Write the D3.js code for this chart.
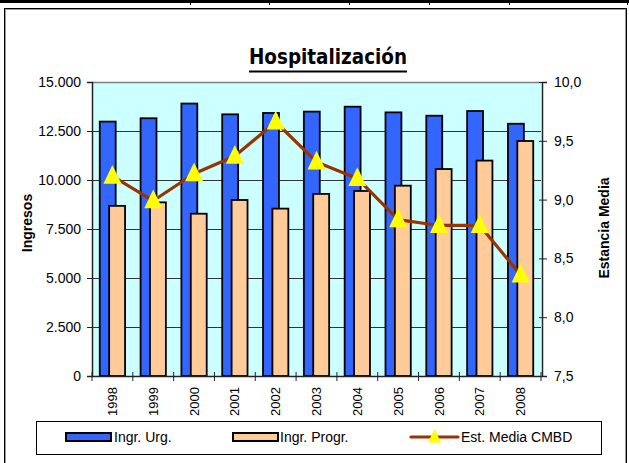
<!DOCTYPE html>
<html><head><meta charset="utf-8">
<script src="https://cdn.jsdelivr.net/npm/d3@7"></script>
<style>body{margin:0;background:#fff}svg{display:block}</style>
</head><body>
<svg id="c" width="629" height="463"></svg>
<script>
const years = ["1998","1999","2000","2001","2002","2003","2004","2005","2006","2007","2008"];
const ingrUrg = [12980, 13150, 13900, 13350, 13420, 13490, 13740, 13450, 13280, 13520, 12870];
const ingrProg = [8680, 8860, 8280, 8980, 8540, 9290, 9440, 9710, 10560, 10990, 11990];
const estancia = [9.20, 8.99, 9.22, 9.37, 9.66, 9.32, 9.18, 8.83, 8.78, 8.78, 8.36];
const leftTicks = [0, 2500, 5000, 7500, 10000, 12500, 15000];
const rightTicks = [7.5, 8.0, 8.5, 9.0, 9.5, 10.0];
const seriesNames = ["Ingr. Urg.", "Ingr. Progr.", "Est. Media CMBD"];

const loc = d3.formatLocale({decimal: ",", thousands: ".", grouping: [3], currency: ["", "€"]});
const fmtL = loc.format(",.0f"), fmtR = loc.format(".1f");

const svg = d3.select("#c");
const font = "'Liberation Sans', Arial, sans-serif";
const L = 92, R = 541, T = 82, B = 376;

// page decorations
svg.append("rect").attr("x",0).attr("y",0).attr("width",629).attr("height",3).attr("fill","#000");
[190,269,349,429,509,627].forEach(x=>svg.append("line").attr("x1",x+0.5).attr("x2",x+0.5).attr("y1",3).attr("y2",5).attr("stroke","#000"));
svg.append("rect").attr("x",4.5).attr("y",8.5).attr("width",622).attr("height",470).attr("fill","#fff").attr("stroke","#000");
svg.append("rect").attr("x",5.5).attr("y",9.5).attr("width",620).attr("height",468).attr("fill","none").attr("stroke","#999");

const x = d3.scaleBand().domain(years).range([L, R]).paddingInner(0).paddingOuter(0);
const y = d3.scaleLinear().domain([0, 15000]).range([B, T]);
const y2 = d3.scaleLinear().domain([7.5, 10]).range([B, T]);

// plot area
svg.append("rect").attr("x",L).attr("y",T).attr("width",R-L).attr("height",B-T).attr("fill","#CCFFFF");
svg.append("line").attr("x1",L).attr("x2",R).attr("y1",T+0.5).attr("y2",T+0.5).attr("stroke","#808080").attr("stroke-width",1.5);
svg.append("g").selectAll("line").data(leftTicks.slice(1,-1)).join("line")
  .attr("x1",L).attr("x2",R).attr("y1",d=>Math.round(y(d))+0.5).attr("y2",d=>Math.round(y(d))+0.5)
  .attr("stroke","#333").attr("stroke-width",1);

const bw = x.bandwidth();
const barW = bw*0.39, off = bw*0.115;
const g = svg.append("g");
g.selectAll("rect.u").data(years).join("rect").attr("class","u")
  .attr("x",(d,i)=>x(d)+bw/2-off-barW/2).attr("width",barW)
  .attr("y",(d,i)=>y(ingrUrg[i])).attr("height",(d,i)=>B-y(ingrUrg[i]))
  .attr("fill","#3366FF").attr("stroke","#000").attr("stroke-width",1.8);
g.selectAll("rect.p").data(years).join("rect").attr("class","p")
  .attr("x",(d,i)=>x(d)+bw/2+off-barW/2).attr("width",barW)
  .attr("y",(d,i)=>y(ingrProg[i])).attr("height",(d,i)=>B-y(ingrProg[i]))
  .attr("fill","#FFCC99").attr("stroke","#000").attr("stroke-width",1.8);

// line
const line = d3.line().x((d,i)=>x(years[i])+bw/2).y(d=>y2(d));
svg.append("path").datum(estancia).attr("d",line).attr("fill","none").attr("stroke","#993300").attr("stroke-width",3.2).attr("stroke-linejoin","round");
const tri = (cx, cy, s) => `M${cx},${cy-s*0.62}L${cx+s*0.5},${cy+s*0.42}L${cx-s*0.5},${cy+s*0.42}Z`;
svg.append("g").selectAll("path").data(estancia).join("path")
  .attr("d",(d,i)=>tri(x(years[i])+bw/2, y2(d), 18)).attr("fill","#FFFF00");

// axes
const axL = svg.append("g").attr("transform",`translate(${L},0)`)
  .call(d3.axisLeft(y).tickValues(leftTicks).tickFormat(fmtL).tickSize(5).tickPadding(6));
const axR = svg.append("g").attr("transform",`translate(${R+1},0)`)
  .call(d3.axisRight(y2).tickValues(rightTicks).tickFormat(fmtR).tickSize(5).tickPadding(7));
axR.selectAll(".tick line").attr("x1",-3);
const axB = svg.append("g").attr("transform",`translate(0,${B})`)
  .call(d3.axisBottom(x).tickSize(0).tickFormat(d=>d));
[axL, axR, axB].forEach(a=>{
  a.select(".domain").attr("stroke","#222").attr("stroke-width",1.5);
  a.selectAll(".tick line").attr("stroke","#222");
  a.selectAll("text").attr("font-family",font).attr("font-size",14).attr("fill","#000");
});
axB.selectAll(".tick text").attr("transform","rotate(-90)").attr("text-anchor","end")
  .attr("x",-11).attr("y",0).attr("dy","0.35em").attr("font-size",13);
// boundary ticks for x
svg.append("g").selectAll("line").data(d3.range(years.length+1)).join("line")
  .attr("x1",i=>L+i*bw).attr("x2",i=>L+i*bw).attr("y1",B-4).attr("y2",B+5).attr("stroke","#222");

// titles
svg.append("text").attr("x",328).attr("y",64).attr("text-anchor","middle")
  .attr("font-family","'Comic Sans MS','DejaVu Sans',sans-serif").attr("font-weight","bold").attr("font-size",22)
  .attr("textLength",158).attr("lengthAdjust","spacingAndGlyphs").text("Hospitalización");
svg.append("line").attr("x1",249).attr("x2",407).attr("y1",71.5).attr("y2",71.5).attr("stroke","#000").attr("stroke-width",2);
svg.append("text").attr("transform","translate(32,223) rotate(-90)").attr("text-anchor","middle")
  .attr("font-family",font).attr("font-weight","bold").attr("font-size",14).text("Ingresos");
svg.append("text").attr("transform","translate(609,228) rotate(-90)").attr("text-anchor","middle")
  .attr("font-family",font).attr("font-weight","bold").attr("font-size",14).text("Estancia Media");

// legend
const lg = svg.append("g");
lg.append("rect").attr("x",36.5).attr("y",421.5).attr("width",565).attr("height",33).attr("fill","#fff").attr("stroke","#000");
const ly = 437;
lg.append("rect").attr("x",66).attr("y",ly-4).attr("width",45).attr("height",8).attr("fill","#3366FF").attr("stroke","#000").attr("stroke-width",2);
lg.append("rect").attr("x",233).attr("y",ly-4).attr("width",45).attr("height",8).attr("fill","#FFCC99").attr("stroke","#000").attr("stroke-width",2);
lg.append("line").attr("x1",411).attr("x2",458).attr("y1",ly).attr("y2",ly).attr("stroke","#993300").attr("stroke-width",3.2).attr("stroke-linecap","round");
lg.append("path").attr("d",tri(434.5, ly, 13)).attr("fill","#FFFF00");
[[114,0],[280,1],[461,2]].forEach(([tx,i])=>lg.append("text").attr("x",tx).attr("y",ly).attr("dy","0.36em")
  .attr("font-family",font).attr("font-size",14).text(seriesNames[i]));
</script>
</body></html>
